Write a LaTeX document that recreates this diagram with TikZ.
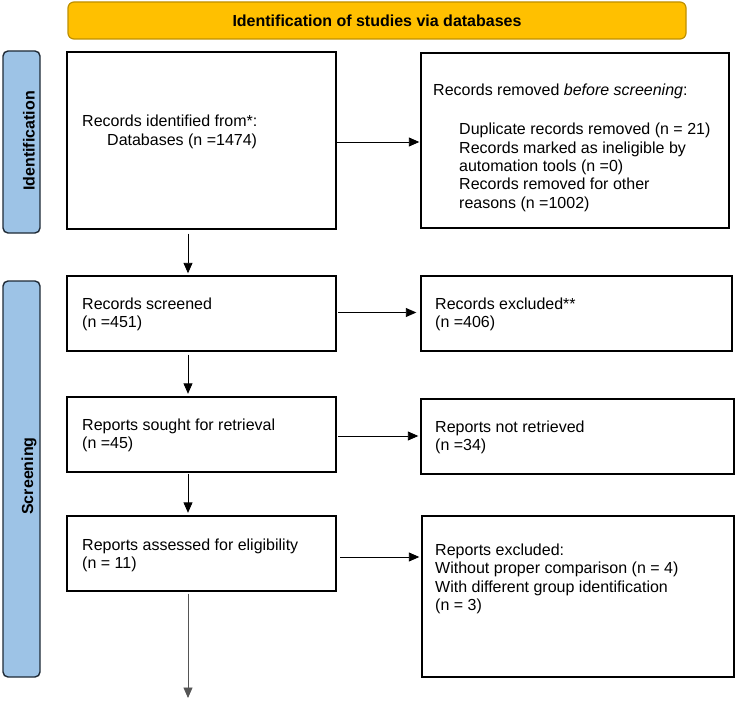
\documentclass[tikz,border=0pt]{standalone}
\usepackage{fontspec}
\setmainfont{Liberation Sans}
\usetikzlibrary{arrows.meta,calc}
\definecolor{bannerfill}{HTML}{FFC000}
\definecolor{bannerline}{HTML}{BF9000}
\definecolor{sidefill}{HTML}{9DC3E6}
\definecolor{sideline}{HTML}{1F2A36}
\definecolor{greyarrow}{HTML}{555555}
\tikzset{
  txtfont/.style={font=\fontsize{16pt}{18.4pt}\selectfont},
  stagebox/.style={draw=black, line width=1.4pt, fill=white, inner sep=0pt},
  boxtext/.style={txtfont, align=left, anchor=west, inner sep=0pt},
  sidebar/.style={draw=sideline, fill=sidefill, line width=1.4pt, rounded corners=5pt, inner sep=0pt},
  sidetext/.style={font=\fontsize{16pt}{18.4pt}\selectfont\bfseries, rotate=90, inner sep=0pt},
  banner/.style={draw=bannerline, fill=bannerfill, line width=1.2pt, rounded corners=6pt, inner sep=0pt},
  flow/.style={draw=black, line width=0.9pt, -{Triangle[length=10.5pt,width=9pt]}},
}
\begin{document}
\begin{tikzpicture}[x=1pt,y=-1pt]
\useasboundingbox (0,0) rectangle (737,701);
% banner
\node[banner, minimum width=618pt, minimum height=37pt] (ban) at (377,20.5) {};
\node[font=\fontsize{16pt}{18.4pt}\selectfont\bfseries, inner sep=0pt] (bant) at (ban.center) {Identification of studies via databases};
% sidebars
\node[sidebar, minimum width=37pt, minimum height=182pt] (sid) at (21.5,142) {};
\node[sidetext] (sidt) at (29,141) {Identification};
\node[sidebar, minimum width=37pt, minimum height=396pt] (sscr) at (21.5,479) {};
\node[sidetext] (sscrt) at (29,476) {Screening};
% left boxes
\node[stagebox, minimum width=269pt, minimum height=177pt] (b1) at (201.5,140.5) {};
\node[stagebox, minimum width=269pt, minimum height=75pt] (b2) at (201.5,313.5) {};
\node[stagebox, minimum width=269pt, minimum height=75pt] (b3) at (201.5,434.5) {};
\node[stagebox, minimum width=269pt, minimum height=75pt] (b4) at (201.5,553.5) {};
% right boxes
\node[stagebox, minimum width=308pt, minimum height=175pt] (r1) at (575,140.5) {};
\node[stagebox, minimum width=311pt, minimum height=75pt] (r2) at (576.5,313.5) {};
\node[stagebox, minimum width=313pt, minimum height=75pt] (r3) at (577.5,436.5) {};
\node[stagebox, minimum width=312pt, minimum height=161pt] (r4) at (578,596.5) {};
% texts
\node[boxtext] (b1t) at (82,132) {Records identified from*:\\\hspace*{25pt}Databases (n =1474)};
\node[boxtext] (r1t) at (433,148) {Records removed \textit{before screening}:\\[20.5pt]
\hspace*{26pt}Duplicate records removed (n = 21)\\
\hspace*{26pt}Records marked as ineligible by\\
\hspace*{26pt}automation tools (n =0)\\
\hspace*{26pt}Records removed for other\\
\hspace*{26pt}reasons (n =1002)};
\node[boxtext] (b2t) at (82,314.5) {Records screened\\(n =451)};
\node[boxtext] (r2t) at (435,314.5) {Records excluded**\\(n =406)};
\node[boxtext] (b3t) at (82,435.5) {Reports sought for retrieval\\(n =45)};
\node[boxtext] (r3t) at (435,437.5) {Reports not retrieved\\(n =34)};
\node[boxtext] (b4t) at (82,555.5) {Reports assessed for eligibility\\(n = 11)};
\node[boxtext] (r4t) at (435,579) {Reports excluded:\\Without proper comparison (n = 4)\\With different group identification\\(n = 3)};
% connectors
\coordinate (endpt) at (188,698);
\coordinate (a1) at ($(b1.east)+(0,1.5)$);
\coordinate (a2) at ($(b2.east)+(0,-1)$);
\coordinate (a3) at ($(b3.east)+(0,1.5)$);
\coordinate (a4) at ($(b4.east)+(0,3.5)$);
\draw[flow, shorten >=1pt] (a1) -- (a1 -| r1.west);
\draw[flow, shorten <=4pt, shorten >=2pt] (b1.south -| endpt) -- (b2.north -| endpt);
\draw[flow, shorten <=1.5pt, shorten >=4pt] (a2) -- (a2 -| r2.west);
\draw[flow, shorten <=3pt, shorten >=2.5pt] (b2.south -| endpt) -- (b3.north -| endpt);
\draw[flow, shorten <=1.5pt, shorten >=2pt] (a3) -- (a3 -| r3.west);
\draw[flow, shorten <=1pt, shorten >=2.5pt] (b3.south -| endpt) -- (b4.north -| endpt);
\draw[flow, shorten <=3.5pt, shorten >=2pt] (a4) -- (a4 -| r4.west);
\draw[flow, draw=greyarrow, shorten <=2pt] (b4.south -| endpt) -- (endpt);
\end{tikzpicture}
\end{document}
